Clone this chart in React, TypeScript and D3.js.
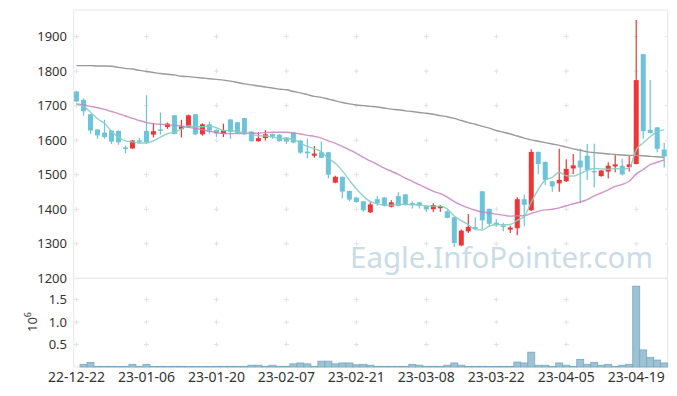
import React from 'react';
import * as d3 from 'd3';

const opens = [1741,1717,1675,1631,1622,1628,1627,1579,1576,1599,1627,1616,1631,1638,1672,1632,1638,1675,1617,1646,1630,1618,1660,1652,1664,1625,1597,1606,1618,1616,1608,1622,1599,1567,1555,1565,1565,1477,1494,1453,1434,1423,1391,1429,1434,1407,1438,1443,1418,1420,1410,1400,1403,1394,1377,1295,1336,1348,1452,1401,1361,1353,1341,1345,1429,1397,1566,1537,1481,1475,1481,1518,1541,1555,1511,1496,1509,1524,1526,1522,1531,1849,1630,1637,1573];
const highs = [1742,1721,1676,1632,1659,1629,1628,1584,1600,1607,1730,1650,1680,1651,1673,1659,1674,1676,1649,1654,1631,1648,1661,1653,1665,1626,1623,1629,1619,1617,1609,1623,1600,1604,1583,1596,1566,1497,1495,1454,1435,1424,1420,1438,1435,1426,1449,1444,1423,1421,1411,1417,1412,1398,1378,1341,1386,1377,1453,1402,1372,1361,1352,1435,1442,1574,1567,1538,1482,1575,1545,1560,1575,1589,1590,1514,1536,1557,1546,1557,1948,1850,1774,1638,1592];
const lows = [1710,1671,1618,1604,1604,1589,1587,1562,1575,1590,1589,1608,1616,1633,1617,1608,1637,1614,1613,1619,1609,1609,1604,1619,1615,1596,1596,1599,1604,1596,1589,1591,1561,1548,1549,1548,1490,1475,1432,1423,1419,1393,1389,1410,1408,1405,1408,1411,1402,1402,1392,1392,1393,1374,1291,1293,1331,1342,1343,1350,1349,1336,1331,1325,1351,1395,1501,1470,1451,1451,1479,1502,1417,1485,1463,1494,1489,1507,1498,1509,1530,1604,1619,1565,1521];
const closes = [1712,1684,1628,1614,1609,1596,1594,1576,1599,1597,1594,1626,1630,1648,1618,1640,1672,1617,1646,1628,1619,1628,1624,1621,1617,1597,1606,1617,1610,1597,1596,1593,1564,1562,1561,1549,1500,1494,1451,1428,1421,1397,1414,1418,1410,1420,1410,1412,1413,1410,1400,1412,1409,1375,1302,1338,1349,1343,1368,1358,1356,1351,1347,1429,1413,1566,1531,1485,1466,1485,1517,1527,1521,1514,1509,1512,1526,1530,1501,1530,1774,1626,1621,1575,1553];
const volumes = [0,60000,100000,15000,15000,15000,10000,15000,60000,10000,60000,10000,15000,10000,15000,15000,10000,10000,10000,10000,15000,15000,15000,15000,15000,40000,40000,15000,40000,15000,15000,70000,90000,70000,15000,130000,130000,70000,90000,90000,50000,60000,40000,15000,15000,15000,15000,15000,60000,40000,15000,15000,10000,40000,90000,40000,15000,15000,15000,10000,15000,15000,15000,110000,90000,330000,40000,40000,15000,90000,40000,15000,170000,60000,100000,40000,60000,15000,40000,60000,1800000,380000,215000,155000,90000];
const ma5 = [1704,1698,1681,1662,1649,1626,1608,1598,1595,1592,1592,1598,1609,1619,1623,1632,1642,1639,1639,1641,1636,1628,1629,1624,1622,1617,1613,1612,1609,1605,1605,1603,1592,1582,1575,1566,1547,1533,1511,1484,1459,1438,1422,1416,1412,1412,1414,1414,1413,1413,1409,1409,1409,1401,1380,1367,1355,1341,1340,1351,1355,1355,1356,1368,1379,1421,1457,1485,1492,1507,1497,1496,1503,1513,1518,1517,1516,1518,1516,1520,1572,1592,1610,1625,1630];
const ma20 = [1705,1702,1698,1694,1689,1683,1677,1670,1663,1657,1651,1648,1646,1645,1643,1641,1637,1634,1630,1626,1622,1619,1619,1619,1620,1620,1620,1622,1623,1623,1623,1621,1618,1614,1611,1606,1598,1591,1582,1572,1562,1550,1540,1530,1519,1510,1501,1490,1481,1471,1461,1452,1445,1435,1422,1412,1404,1397,1392,1389,1386,1383,1380,1381,1381,1388,1394,1398,1400,1404,1410,1416,1421,1428,1439,1447,1456,1466,1472,1481,1502,1515,1529,1536,1543];
const ma120 = [1816,1816,1816,1815,1815,1814,1811,1808,1806,1802,1799,1796,1793,1791,1789,1785,1784,1782,1780,1778,1776,1774,1771,1767,1763,1760,1757,1754,1751,1748,1746,1741,1737,1732,1727,1724,1719,1714,1709,1705,1702,1700,1698,1696,1693,1690,1688,1685,1683,1680,1678,1675,1671,1668,1663,1657,1651,1646,1640,1635,1628,1623,1618,1612,1606,1601,1597,1593,1589,1585,1580,1575,1571,1566,1564,1562,1560,1559,1557,1556,1556,1555,1553,1552,1550];

const xTickIdx = [0,10,20,30,40,50,60,70,80];
const xTickLabels = ['22-12-22','23-01-06','23-01-20','23-02-07','23-02-21','23-03-08','23-03-22','23-04-05','23-04-19'];
const priceTicks = [1200,1300,1400,1500,1600,1700,1800,1900];
const volTicks = [500000,1000000,1500000];
const volTickLabels = ['0.5','1.0','1.5'];

const UP = '#ee3636';
const DOWN = '#6cc3da';
const FONT = '"Noto Sans", sans-serif';

export default function App() {
  const left = 73.7, right = 667.7, top = 10, priceBottom = 278.3, volBottom = 367;
  const n = closes.length;
  const x = d3.scaleLinear().domain([-0.4, n - 0.5]).range([left, right]);
  const y = d3.scaleLinear().domain([1200, 1977]).range([priceBottom, top]);
  const yv = d3.scaleLinear().domain([0, 1975000]).range([volBottom, priceBottom]);
  const step = x(1) - x(0);
  const bodyW = 5;

  const line = (arr: number[]) =>
    d3.line<number>().x((_, i) => x(i)).y((d) => y(d)).curve(d3.curveMonotoneX)(arr) || '';

  const plus = (cx: number, cy: number, key: string) => (
    <g key={key} stroke="#e2e2e2" strokeWidth={1}>
      <line x1={cx - 2.5} x2={cx + 2.5} y1={cy} y2={cy} />
      <line x1={cx} x2={cx} y1={cy - 2.5} y2={cy + 2.5} />
    </g>
  );

  return (
    <svg width={677} height={396} style={{ position: 'absolute', left: 0, top: 0, background: '#fff' }}>
      {/* frame */}
      <g stroke="#e6e6e6" strokeWidth={1} fill="none">
        <line x1={left} x2={right} y1={top} y2={top} />
        <line x1={left} x2={right} y1={priceBottom} y2={priceBottom} />
        <line x1={left} x2={right} y1={volBottom} y2={volBottom} />
        <line x1={left} x2={left} y1={top} y2={volBottom} />
        <line x1={right} x2={right} y1={top} y2={volBottom} />
      </g>
      {/* grid plus markers */}
      {xTickIdx.map((ti) =>
        priceTicks.filter((p) => p > 1200).map((p) => plus(x(ti), y(p), `p${ti}-${p}`))
      )}
      {xTickIdx.map((ti) => volTicks.map((v) => plus(x(ti), yv(v), `v${ti}-${v}`)))}
      {priceTicks.map((p) => (
        <line key={`rt${p}`} x1={right - 2.5} x2={right} y1={y(p)} y2={y(p)} stroke="#e2e2e2" />
      ))}
      {/* watermark */}
      <text x={350} y={268} fontFamily={FONT} fontSize={29} fill="#c9dce7" textLength={303} lengthAdjust="spacingAndGlyphs">
        Eagle.InfoPointer.com
      </text>
      {/* volume */}
      {volumes.map((v, i) => (
        <rect key={`vb${i}`} x={x(i) - step / 2} width={step} y={yv(v)} height={volBottom - yv(v)}
          fill="#9cc2d3" stroke="#78a9c0" strokeWidth={0.8} />
      ))}
      {/* candles */}
      {closes.map((c, i) => {
        const o = opens[i];
        const col = c >= o ? UP : DOWN;
        const yt = y(Math.max(o, c));
        const yb = y(Math.min(o, c));
        return (
          <g key={`c${i}`}>
            <line x1={x(i)} x2={x(i)} y1={y(highs[i])} y2={y(lows[i])} stroke={col} strokeWidth={1.2} />
            <rect x={x(i) - bodyW / 2} width={bodyW} y={yt} height={Math.max(1.5, yb - yt)} fill={col} />
          </g>
        );
      })}
      {/* moving averages */}
      <path d={line(ma120)} fill="none" stroke="#9a9a9a" strokeWidth={1.4} />
      <path d={line(ma20)} fill="none" stroke="#c880c2" strokeWidth={1.4} strokeOpacity={0.85} />
      <path d={line(ma5)} fill="none" stroke="#86cdbf" strokeWidth={1.4} strokeOpacity={0.9} />
      {/* axes labels */}
      {priceTicks.map((p) => (
        <text key={`pl${p}`} x={67} y={y(p) + 4.5} textAnchor="end" fontFamily={FONT} fontSize={13} fill="#333">
          {p}
        </text>
      ))}
      {volTicks.map((v, k) => (
        <text key={`vl${v}`} x={67} y={yv(v) + 4.5} textAnchor="end" fontFamily={FONT} fontSize={13} fill="#333">
          {volTickLabels[k]}
        </text>
      ))}
      <g transform="translate(37,332) rotate(-90)">
        <text x={0} y={0} fontFamily={FONT} fontSize={13} fill="#333">
          10<tspan fontSize={9} dy={-6}>6</tspan>
        </text>
      </g>
      {xTickIdx.map((ti, k) => (
        <text key={`xl${ti}`} x={x(ti)} y={382} textAnchor="middle" fontFamily={FONT} fontSize={14} fill="#333">
          {xTickLabels[k]}
        </text>
      ))}
    </svg>
  );
}
